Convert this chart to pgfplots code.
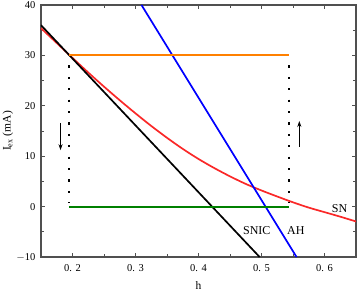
\documentclass[border=0pt]{standalone}
\usepackage{pgfplots}
\pgfplotsset{compat=1.18}
\usepackage{fontspec}
\setmainfont{Liberation Serif}
\usetikzlibrary{arrows.meta}
\definecolor{cred}{RGB}{250,40,40}
\definecolor{cblue}{RGB}{0,0,255}
\definecolor{corange}{RGB}{255,128,0}
\definecolor{cgreen}{RGB}{0,128,0}
\definecolor{axgray}{RGB}{80,80,80}
\begin{document}
\begin{tikzpicture}
\begin{axis}[
  scale only axis, width=315pt, height=252pt,
  xmin=0.15, xmax=0.65, ymin=-10, ymax=40,
  xtick={0.2,0.3,0.4,0.5,0.6},
  xticklabels={0. 2,0. 3,0. 4,0. 5,0. 6},
  ytick={-10,0,10,20,30,40},
  yticklabels={$-$10,0,10,20,30,40},
  minor x tick num=1, minor y tick num=1,
  tick align=inside,
  major tick length=4pt, minor tick length=3pt,
  tick style={axgray, line width=0.9pt},
  axis line style={axgray, line width=1.6pt},
  every tick label/.append style={font=\fontsize{10.5}{11}\selectfont},
  xticklabel style={yshift=-4pt},
  yticklabel style={xshift=-2pt},
  xlabel={h}, ylabel={I\textsubscript{ex} (mA)},
  label style={font=\fontsize{11.5}{12}\selectfont},
  xlabel style={at={(axis description cs:0.5,-0.114)}, anchor=center},
  ylabel style={at={(axis description cs:-0.105,0.5)}, anchor=center},
  clip=true,
]
% SN (red)
\addplot[cred, line width=1.7pt, smooth] coordinates {
(0.15,35.4) (0.175,32.45) (0.20,29.5) (0.225,26.6) (0.25,23.8) (0.275,21.1)
(0.30,18.5) (0.325,16.0) (0.35,13.65) (0.375,11.45) (0.40,9.45) (0.425,7.65)
(0.45,6.0) (0.475,4.5) (0.50,3.2) (0.525,2.0) (0.55,0.85) (0.575,-0.2)
(0.60,-1.1) (0.625,-2.0) (0.65,-2.95)};
% SNIC (black)
\addplot[black, line width=1.7pt] coordinates {(0.15,36) (0.497,-10)};
% AH (blue)
\addplot[cblue, line width=1.7pt] coordinates {(0.3095,40) (0.5556,-10)};
% orange branch
\addplot[corange, line width=1.8pt] coordinates {(0.1946,30) (0.5438,30)};
% green branch
\addplot[cgreen, line width=1.8pt] coordinates {(0.1946,0) (0.5438,0)};
% dotted jumps
\addplot[black, line width=2.2pt, dash pattern=on 2.2pt off 9.2pt, dash phase=-5pt] coordinates {(0.1946,29) (0.1946,0.8)};
\addplot[black, line width=2.2pt, dash pattern=on 2.2pt off 9.2pt, dash phase=-5pt] coordinates {(0.5438,29) (0.5438,0.8)};
% arrows
\addplot[black, line width=0.9pt, -{Stealth[length=6pt,width=4pt]}] coordinates {(0.181,16.6) (0.181,11.2)};
\addplot[black, line width=0.9pt, -{Stealth[length=6pt,width=4pt]}] coordinates {(0.56,11.9) (0.56,17.0)};
% labels
\node[font=\fontsize{12}{13}\selectfont] at (axis cs:0.4925,-4.84) {SNIC};
\node[font=\fontsize{12}{13}\selectfont] at (axis cs:0.5545,-4.84) {AH};
\node[font=\fontsize{12}{13}\selectfont] at (axis cs:0.624,-0.34) {SN};
\end{axis}
\pgfresetboundingbox
\path (-41pt,-35pt) rectangle (317pt,257pt);
\end{tikzpicture}
\end{document}
